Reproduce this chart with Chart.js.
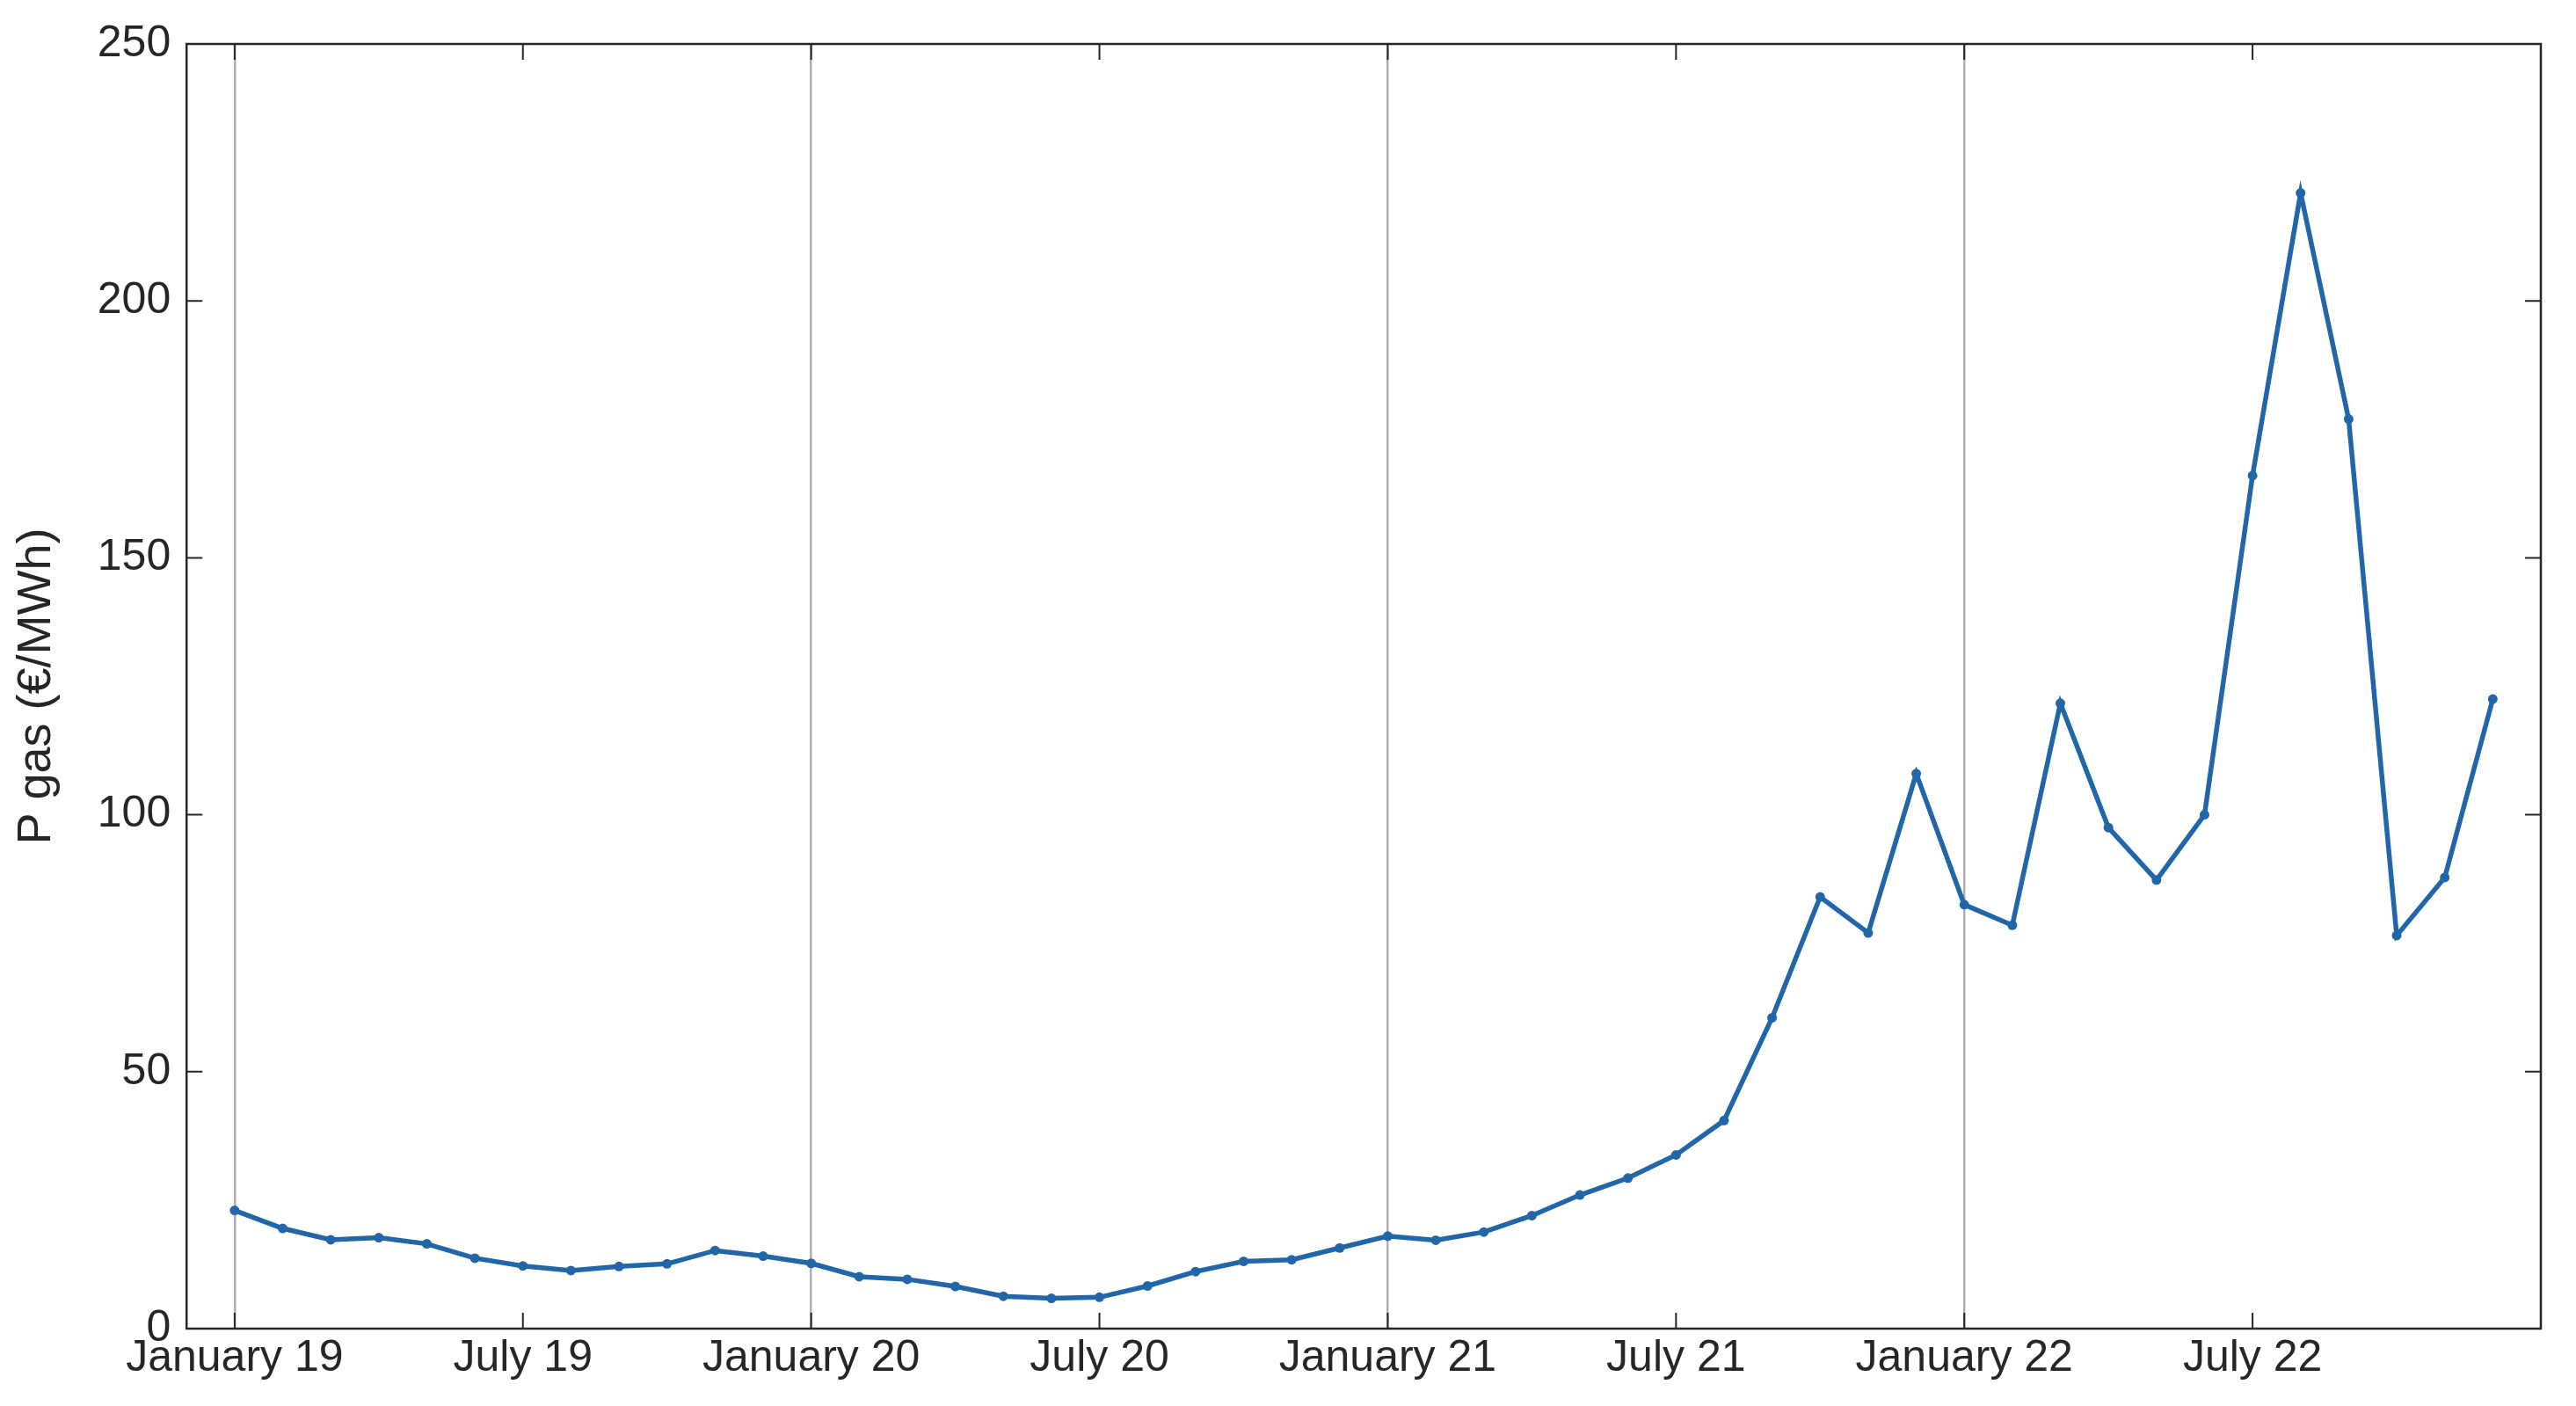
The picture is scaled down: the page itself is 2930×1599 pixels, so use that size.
<!DOCTYPE html>
<html>
<head>
<meta charset="utf-8">
<script src="https://cdn.jsdelivr.net/npm/chart.js@4"></script>
<style>
  html, body { margin: 0; padding: 0; background: #fff; }
  #wrap { width: 2930px; height: 1599px; }
</style>
</head>
<body>
<div id="wrap"><canvas id="gasChart" width="2930" height="1599"></canvas></div>
<script>
const months = [
  'Jan 19','Feb 19','Mar 19','Apr 19','May 19','Jun 19','Jul 19','Aug 19','Sep 19','Oct 19','Nov 19','Dec 19',
  'Jan 20','Feb 20','Mar 20','Apr 20','May 20','Jun 20','Jul 20','Aug 20','Sep 20','Oct 20','Nov 20','Dec 20',
  'Jan 21','Feb 21','Mar 21','Apr 21','May 21','Jun 21','Jul 21','Aug 21','Sep 21','Oct 21','Nov 21','Dec 21',
  'Jan 22','Feb 22','Mar 22','Apr 22','May 22','Jun 22','Jul 22','Aug 22','Sep 22','Oct 22','Nov 22','Dec 22'
];
const gasPrice = [
  23.0, 19.5, 17.3, 17.7, 16.5, 13.7, 12.2, 11.3, 12.1, 12.6, 15.2, 14.1,
  12.7, 10.1, 9.6, 8.2, 6.3, 5.9, 6.1, 8.3, 11.1, 13.1, 13.4, 15.7,
  18.0, 17.2, 18.8, 22.0, 26.0, 29.3, 33.8, 40.5, 60.5, 84.0, 77.0, 108.0,
  82.5, 78.5, 121.7, 97.5, 87.3, 100.0, 166.0, 221.0, 177.0, 76.5, 87.8, 122.5
];
const tickLabels = {
  0: 'January 19', 6: 'July 19', 12: 'January 20', 18: 'July 20',
  24: 'January 21', 30: 'July 21', 36: 'January 22', 42: 'July 22'
};
const yTicks = [0, 50, 100, 150, 200, 250];

// inward tick marks on all four sides, like the reference box
const innerTicks = {
  id: 'innerTicks',
  afterDraw(chart) {
    const { ctx, chartArea: a, scales: { x, y } } = chart;
    ctx.save();
    ctx.strokeStyle = '#262626';
    ctx.lineWidth = 2;
    ctx.beginPath();
    Object.keys(tickLabels).forEach(k => {
      const px = x.getPixelForValue(Number(k));
      ctx.moveTo(px, a.bottom); ctx.lineTo(px, a.bottom - 18);
      ctx.moveTo(px, a.top); ctx.lineTo(px, a.top + 18);
    });
    yTicks.forEach(v => {
      const py = y.getPixelForValue(v);
      ctx.moveTo(a.left, py); ctx.lineTo(a.left + 18, py);
      ctx.moveTo(a.right, py); ctx.lineTo(a.right - 18, py);
    });
    ctx.stroke();
    ctx.lineWidth = 2.5;
    ctx.strokeRect(a.left, a.top, a.right - a.left, a.bottom - a.top);
    ctx.restore();
  }
};

new Chart(document.getElementById('gasChart'), {
  type: 'line',
  data: {
    datasets: [{
      data: gasPrice.map((v, i) => ({ x: i, y: v })),
      borderColor: '#2166a8',
      backgroundColor: '#2166a8',
      borderWidth: 5.5,
      pointRadius: 5.5,
      pointBorderWidth: 0,
      tension: 0,
      fill: false
    }]
  },
  options: {
    responsive: false,
    animation: false,
    devicePixelRatio: 1,
    layout: { padding: { top: 50, right: 40, left: 6, bottom: 20 } },
    plugins: { legend: { display: false }, tooltip: { enabled: false } },
    scales: {
      x: {
        type: 'linear',
        min: -1,
        max: 48,
        afterBuildTicks: s => { s.ticks = Object.keys(tickLabels).map(k => ({ value: Number(k) })); },
        ticks: {
          callback: v => tickLabels[v] || '',
          color: '#262626',
          font: { family: 'Liberation Sans, Arial', size: 50 },
          maxRotation: 0,
          autoSkip: false,
          padding: 4
        },
        grid: {
          drawTicks: false,
          color: ctx => (ctx.tick && ctx.tick.value % 12 === 0) ? '#b0b0b0' : 'rgba(0,0,0,0)',
          lineWidth: 2.5
        },
        border: { display: false }
      },
      y: {
        min: 0,
        max: 250,
        afterBuildTicks: s => { s.ticks = yTicks.map(v => ({ value: v })); },
        ticks: {
          color: '#262626',
          font: { family: 'Liberation Sans, Arial', size: 50 },
          padding: 18
        },
        grid: { display: false, drawTicks: false },
        border: { display: false },
        title: {
          display: true,
          text: 'P gas (€/MWh)',
          color: '#262626',
          font: { family: 'Liberation Sans, Arial', size: 54 },
          padding: { bottom: 18 }
        }
      }
    }
  },
  plugins: [innerTicks]
});
</script>
</body>
</html>
